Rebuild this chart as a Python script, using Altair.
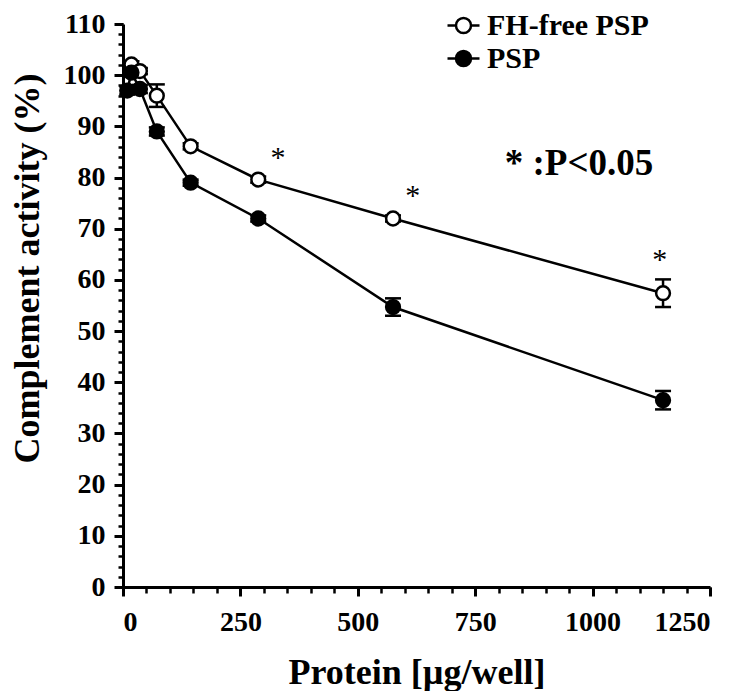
import altair as alt
import pandas as pd

series_names = ["FH-free PSP", "PSP"]
fh_x = [18, 36, 72, 144, 288, 575, 1150]
fh_y = [102.1, 100.8, 96.0, 86.1, 79.6, 72.0, 57.4]
fh_err = [0.6, 0.6, 2.2, 0.6, 0.6, 0.6, 2.7]
psp_x = [9, 18, 36, 72, 144, 288, 575, 1150]
psp_y = [97.0, 100.5, 97.3, 89.0, 79.0, 72.0, 54.7, 36.5]
psp_err = [0.8, 0.8, 0.8, 0.8, 0.6, 0.6, 1.7, 1.8]
star_x = [330, 617, 1143]
star_y = [84.9, 77.5, 65.0]
note_text = ["* :P<0.05"]
note_x = [813]
note_y = [80.4]
x_ticks = [0, 250, 500, 750, 1000, 1250]
x_minor = list(range(0, 1251, 50))
y_ticks = list(range(0, 111, 10))
y_minor = list(range(0, 111, 2))

rows = []
for name, xs, ys, es in [(series_names[0], fh_x, fh_y, fh_err), (series_names[1], psp_x, psp_y, psp_err)]:
    for xv, yv, ev in zip(xs, ys, es):
        rows.append({"series": name, "x": xv, "y": yv, "lo": yv - ev, "hi": yv + ev})
df = pd.DataFrame(rows)
stars = pd.DataFrame({"x": star_x, "y": star_y, "t": ["*"] * len(star_x)})
note = pd.DataFrame({"x": note_x, "y": note_y, "t": note_text})

FONT = "Liberation Serif"
xscale = alt.Scale(domain=[0, 1250], nice=False, zero=False)
yscale = alt.Scale(domain=[0, 110], nice=False, zero=False)

x_major_axis = alt.Axis(values=x_ticks, format="d", tickSize=9, tickWidth=3, labelPadding=12,
                        title="Protein [µg/well]", titleY=85, titleBaseline="middle", orient="bottom")
y_major_axis = alt.Axis(values=y_ticks, format="d", tickSize=9, tickWidth=3, labelPadding=9,
                        title="Complement activity (%)", titleX=-96, titleY=244, titleBaseline="middle",
                        orient="left")
x_minor_axis = alt.Axis(values=x_minor, tickSize=6, tickWidth=2.5, labels=False, domain=False,
                        title=None, orient="bottom")
y_minor_axis = alt.Axis(values=y_minor, tickSize=5, tickWidth=2.5, labels=False, domain=False,
                        title=None, orient="left")

def X(axis=None):
    return alt.X("x:Q", scale=xscale, axis=axis)

def Y(field="y", axis=None):
    return alt.Y(f"{field}:Q", scale=yscale, axis=axis)

base = alt.Chart(df)

minor = base.mark_point(opacity=0).encode(x=X(x_minor_axis), y=Y(axis=y_minor_axis))
major = base.mark_point(opacity=0).encode(x=X(x_major_axis), y=Y(axis=y_major_axis))

lines = base.mark_line(color="black", strokeWidth=2.5).encode(x=X(), y=Y(), detail="series:N")
err = base.mark_rule(color="black", strokeWidth=2.5).encode(x=X(), y=Y("lo"), y2="hi:Q")
cap_hi = base.mark_tick(orient="horizontal", color="black", thickness=2.5, size=16, opacity=1).encode(x=X(), y=Y("hi"))
cap_lo = base.mark_tick(orient="horizontal", color="black", thickness=2.5, size=16, opacity=1).encode(x=X(), y=Y("lo"))

sym = "M-1,0L-0.47,0M0.47,0L1,0M0.47,0A0.47,0.47,0,1,0,-0.47,0A0.47,0.47,0,1,0,0.47,0Z"
points = base.mark_point(shape="circle", filled=True, size=190, stroke="black", strokeWidth=2.5, opacity=1).encode(
    x=X(), y=Y(),
    fill=alt.Fill("series:N", scale=alt.Scale(domain=series_names, range=["white", "black"]),
                  legend=alt.Legend(title=None, orient="none", legendX=323, legendY=-16,
                                    symbolType=sym, symbolSize=1024, symbolStrokeColor="black",
                                    symbolStrokeWidth=2.5, labelFont=FONT, labelFontWeight="bold",
                                    labelFontSize=30, labelColor="black", rowPadding=-6, padding=0,
                                    labelOffset=6, labelLimit=400, symbolOpacity=1)),
)

star_layer = alt.Chart(stars).mark_text(font=FONT, fontSize=30, baseline="middle", dy=6, color="black").encode(
    x=X(), y=Y(), text="t:N")
note_layer = alt.Chart(note).mark_text(font=FONT, fontSize=37, fontWeight="bold", align="left",
                                       baseline="alphabetic", color="black").encode(x=X(), y=Y(), text="t:N")

chart = alt.layer(minor, major, lines, err, cap_hi, cap_lo, points, star_layer, note_layer).resolve_axis(
    x="independent", y="independent"
).properties(
    width=587, height=563,
    autosize=alt.AutoSizeParams(type="none"),
    padding={"left": 115, "top": 16, "right": 32, "bottom": 104},
).configure_axis(
    grid=False, domainColor="black", domainWidth=3, tickColor="black",
    labelFont=FONT, labelFontWeight="bold", labelFontSize=28, labelColor="black",
    titleFont=FONT, titleFontWeight="bold", titleFontSize=36, titleColor="black",
).configure_view(strokeWidth=0)

chart.save("out.html", embed_options={"renderer": "svg", "actions": False})
